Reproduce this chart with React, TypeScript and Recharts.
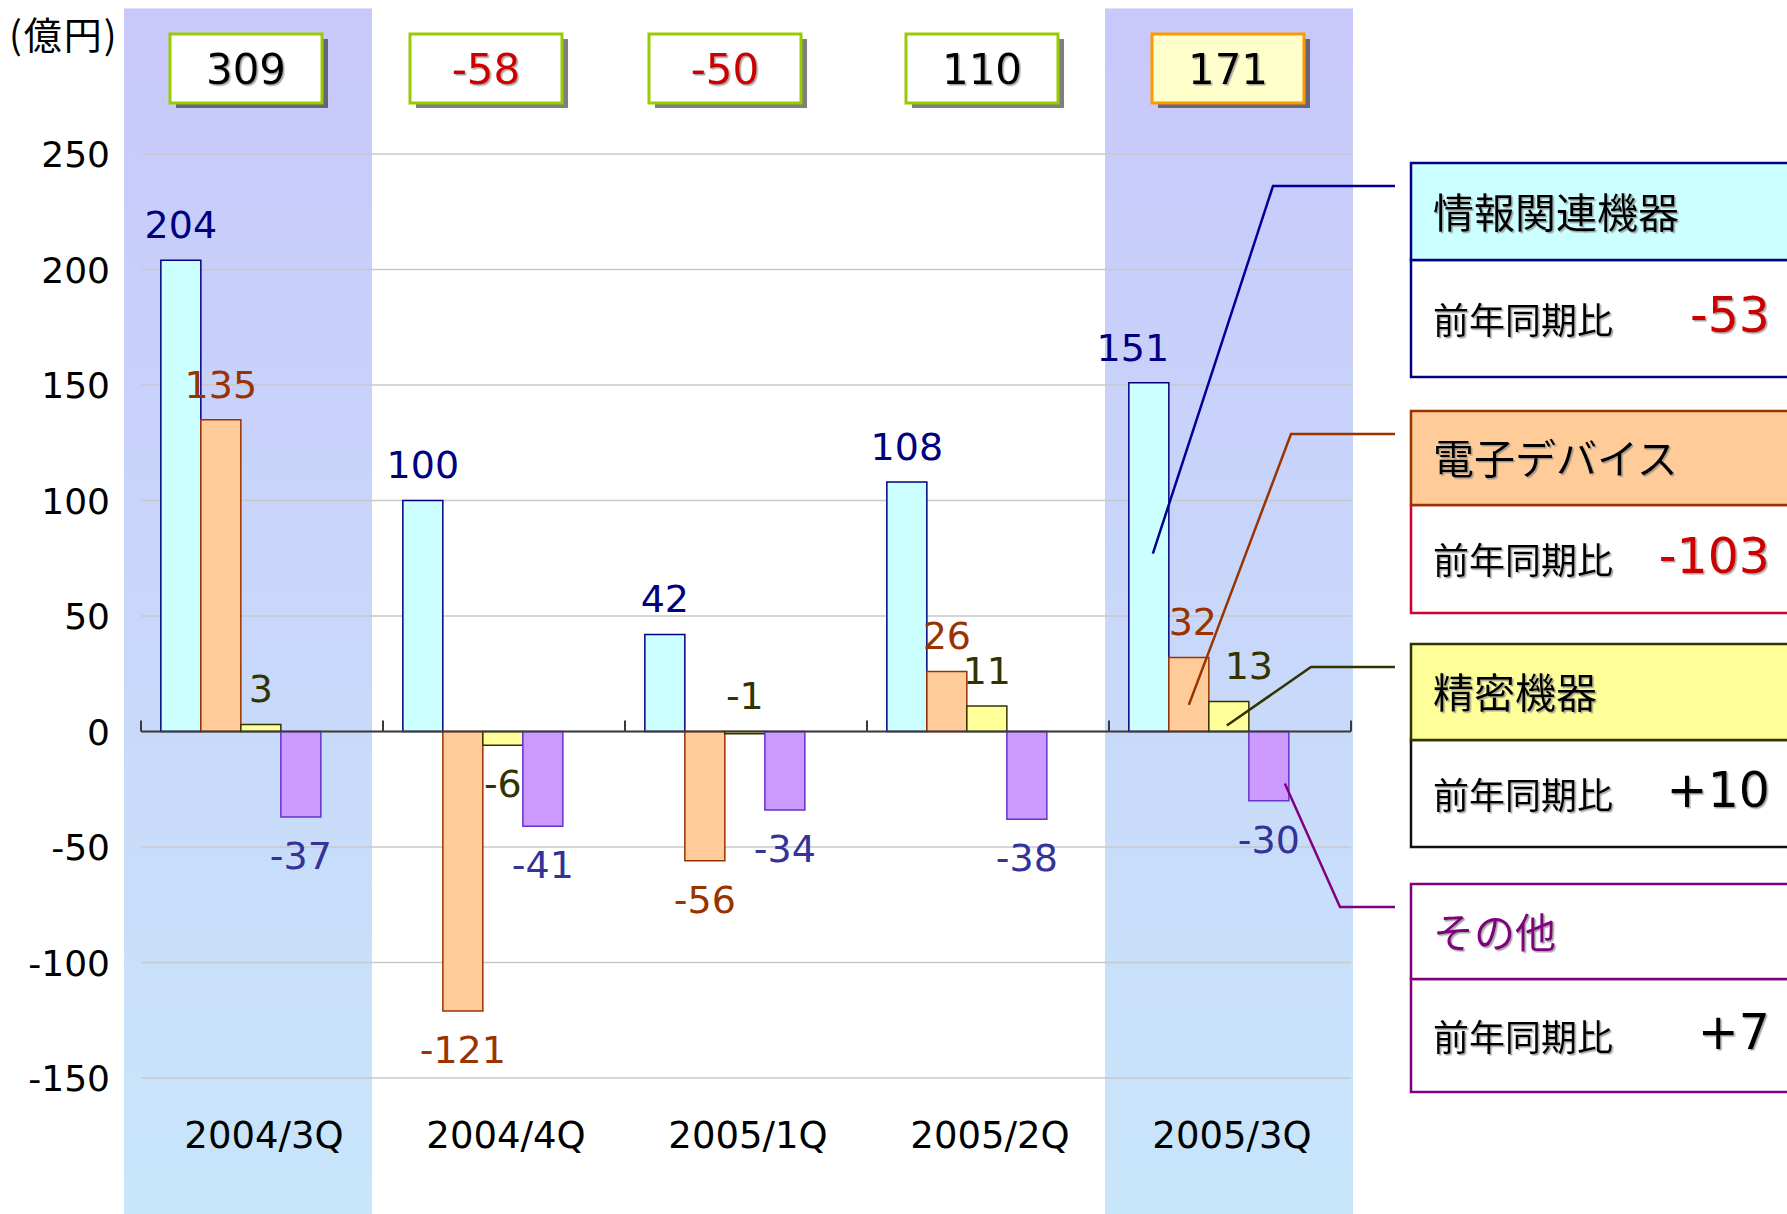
import React from 'react';
import {
  BarChart,
  Bar,
  XAxis,
  YAxis,
  CartesianGrid,
  ReferenceArea,
  ReferenceLine,
  LabelList,
} from 'recharts';

// ---------------- data ----------------
const categories = ['2004/3Q', '2004/4Q', '2005/1Q', '2005/2Q', '2005/3Q'];
const infoValues = [204, 100, 42, 108, 151];
const deviceValues = [135, -121, -56, 26, 32];
const precisionValues = [3, -6, -1, 11, 13];
const otherValues = [-37, -41, -34, -38, -30];
const totalValues = [309, -58, -50, 110, 171];
const yTicks = [-150, -100, -50, 0, 50, 100, 150, 200, 250];
const seriesNames = ['情報関連機器', '電子デバイス', '精密機器', 'その他'];
const yoyValues = ['-53', '-103', '+10', '+7'];
const highlightedCategories = ['2004/3Q', '2005/3Q'];
const unitLabel = '(億円)';
const yoyCaption = '前年同期比';

const data = categories.map((cat, i) => ({
  cat,
  info: infoValues[i],
  device: deviceValues[i],
  precision: precisionValues[i],
  other: otherValues[i],
}));

// ---------------- styles ----------------
const W = 1787;
const H = 1214;
const NUM_FONT = "'DejaVu Sans', Verdana, sans-serif";
const JP_FONT = "'Noto Sans CJK JP', 'Noto Sans', sans-serif";

const seriesStyles = [
  { key: 'info', fill: '#CCFFFF', stroke: '#000080', label: '#000080' },
  { key: 'device', fill: '#FFCC99', stroke: '#993300', label: '#993300' },
  { key: 'precision', fill: '#FFFF99', stroke: '#333300', label: '#333300' },
  { key: 'other', fill: '#CC99FF', stroke: '#6633CC', label: '#333399' },
];

// label nudges (series index - category index)
const labelNudges: Record<string, { dx?: number; above?: boolean }> = {
  '0-4': { dx: -16 },
  '1-4': { dx: 4 },
  '2-4': { dx: 20 },
  '2-2': { above: true },
};

// legend boxes (right side)
const LEGEND_X = 1411;
const LEADER_END_X = 1395;
const legendBoxes = [
  { top: 163, split: 260, bottom: 377, headFill: '#CCFFFF', headStroke: '#000080', bodyStroke: '#000080', titleColor: '#000000', valueColor: '#CC0000', leader: '#000099', elbowX: 1273, fx: 0.6, fy: 0.49 },
  { top: 411, split: 505, bottom: 613, headFill: '#FFCC99', headStroke: '#993300', bodyStroke: '#CC0033', titleColor: '#000000', valueColor: '#CC0000', leader: '#993300', elbowX: 1291, fx: 0.5, fy: 0.64 },
  { top: 644, split: 740, bottom: 847, headFill: '#FFFF99', headStroke: '#333300', bodyStroke: '#111111', titleColor: '#000000', valueColor: '#000000', leader: '#333300', elbowX: 1311, fx: 0.45, fy: 0.8 },
  { top: 884, split: 979, bottom: 1092, headFill: '#FFFFFF', headStroke: '#800080', bodyStroke: '#800080', titleColor: '#800080', valueColor: '#000000', leader: '#800080', elbowX: 1340, fx: 0.9, fy: 0.75 },
];

// total boxes at the top
const totalBoxNudges = [-16, -18, -21, -6, -2];
const bandNudges = [
  { l: -17, r: -11 },
  { l: -4, r: 2 },
];

const makeLabel = (si: number) => (props: any) => {
  const vb = props.viewBox || {};
  const x = props.x ?? vb.x;
  const y = props.y ?? vb.y;
  const width = props.width ?? vb.width;
  const height = props.height ?? vb.height;
  const value = props.value;
  const index = props.index;
  if (x == null || y == null || value == null) return null;
  const top = Math.min(y, y + height);
  const bottom = Math.max(y, y + height);
  const nudge = labelNudges[`${si}-${index}`] || {};
  const above = value >= 0 || nudge.above;
  const cx = x + width / 2 + (nudge.dx || 0);
  const cy = above ? top - 36 : bottom + 38;
  const fs = 38;
  const st = seriesStyles[si];
  const lb = legendBoxes[si];
  let leader = null;
  if (index === categories.length - 1) {
    const sx = x + width * lb.fx;
    const sy = top + (bottom - top) * lb.fy;
    const ey = lb.top + 23;
    leader = (
      <polyline
        points={`${sx},${sy} ${lb.elbowX},${ey} ${LEADER_END_X},${ey}`}
        fill="none"
        stroke={lb.leader}
        strokeWidth={2.5}
      />
    );
  }
  return (
    <g>
      <text
        x={cx}
        y={cy + fs * 0.365}
        textAnchor="middle"
        fill={st.label}
        fontSize={fs}
        fontFamily={NUM_FONT}
      >
        {value}
      </text>
      {leader}
    </g>
  );
};

const BandShape = (bi: number) => (p: any) => {
  const nudge = bandNudges[bi];
  const x = p.x + nudge.l;
  const w = p.width - nudge.l + nudge.r;
  const y = Math.min(p.y, p.y + p.height);
  const h = Math.abs(p.height);
  const id = `bandGrad${bi}`;
  return (
    <g>
      <defs>
        <linearGradient id={id} gradientUnits="userSpaceOnUse" x1={0} y1={y} x2={0} y2={y + h}>
          <stop offset="0%" stopColor="#C8C8FA" />
          <stop offset="100%" stopColor="#C8E6FA" />
        </linearGradient>
      </defs>
      <rect x={x} y={y} width={w} height={h} fill={`url(#${id})`} />
    </g>
  );
};

const AxisShape = (p: any) => {
  const { x1, y1, x2 } = p;
  if (x1 == null || y1 == null || x2 == null) return null;
  const n = categories.length;
  const ticks = [];
  for (let i = 0; i <= n; i++) {
    const tx = x1 + ((x2 - x1) * i) / n;
    ticks.push(<line key={i} x1={tx} x2={tx} y1={y1} y2={y1 - 11} stroke="#3A3A3A" strokeWidth={2} />);
  }
  return (
    <g>
      <line x1={x1} x2={x2} y1={y1} y2={y1} stroke="#3A3A3A" strokeWidth={2} />
      {ticks}
    </g>
  );
};

const YTick = (p: any) => {
  const { x, y, payload } = p;
  const fs = 36;
  return (
    <text x={x} y={y + fs * 0.365} textAnchor="end" fill="#000" fontSize={fs} fontFamily={NUM_FONT}>
      {payload.value}
    </text>
  );
};

const XTick = (p: any) => {
  const { x, payload } = p;
  const i = payload.index ?? categories.indexOf(payload.value);
  const fs = 37;
  const total = totalValues[i];
  const last = i === categories.length - 1;
  const bx = x + totalBoxNudges[i] - 76;
  const by = 34;
  const bw = 152;
  const bh = 69;
  return (
    <g>
      <text x={x + 2} y={1134 + fs * 0.365} textAnchor="middle" fill="#000" fontSize={fs} fontFamily={NUM_FONT}>
        {payload.value}
      </text>
      <rect x={bx + 6} y={by + 5} width={bw} height={bh} fill="#000" fillOpacity={0.5} />
      <rect
        x={bx}
        y={by}
        width={bw}
        height={bh}
        fill={last ? '#FFFFCC' : '#FFFFFF'}
        stroke={last ? '#FF9900' : '#99CC00'}
        strokeWidth={3}
      />
      <text
        x={bx + bw / 2}
        y={by + bh / 2 + 42 * 0.365}
        textAnchor="middle"
        fill={total < 0 ? '#CC0000' : '#000000'}
        fontSize={42}
        fontFamily={NUM_FONT}
        filter="url(#txtShadow)"
      >
        {total}
      </text>
    </g>
  );
};

const Overlay = () => (
  <svg width={W} height={H} style={{ position: 'absolute', left: 0, top: 0, pointerEvents: 'none' }}>
    <defs>
      <filter id="txtShadow" x="-10%" y="-10%" width="130%" height="130%">
        <feDropShadow dx="1.5" dy="1.5" stdDeviation="0.6" floodColor="#808080" floodOpacity="0.7" />
      </filter>
    </defs>
    <text x={9} y={32} dominantBaseline="central" fontSize={38} letterSpacing={2} fontFamily={JP_FONT} fill="#000">
      {unitLabel}
    </text>
    {legendBoxes.map((b, i) => (
      <g key={i}>
        <rect x={LEGEND_X} y={b.split} width={420} height={b.bottom - b.split} fill="#FFFFFF" stroke={b.bodyStroke} strokeWidth={2.5} />
        <rect x={LEGEND_X} y={b.top} width={420} height={b.split - b.top} fill={b.headFill} stroke={b.headStroke} strokeWidth={2.5} />
        <text
          x={1433}
          y={(b.top + b.split) / 2 - 2}
          dominantBaseline="central"
          fontSize={41}
          fontFamily={JP_FONT}
          fill={b.titleColor}
          filter="url(#txtShadow)"
        >
          {seriesNames[i]}
        </text>
        <text
          x={1433}
          y={(b.split + b.bottom) / 2 - 1}
          dominantBaseline="central"
          fontSize={36}
          fontFamily={JP_FONT}
          fill="#000"
          filter="url(#txtShadow)"
        >
          {yoyCaption}
        </text>
        <text
          x={1770}
          y={(b.split + b.bottom) / 2 - 4 + 49 * 0.365}
          textAnchor="end"
          fontSize={49}
          fontFamily={NUM_FONT}
          fill={b.valueColor}
          filter="url(#txtShadow)"
        >
          {yoyValues[i]}
        </text>
      </g>
    ))}
  </svg>
);

export default function App() {
  return (
    <div style={{ position: 'absolute', left: 0, top: 0, width: W, height: H, background: '#FFFFFF', overflow: 'hidden' }}>
      <BarChart
        width={W}
        height={H}
        data={data}
        margin={{ top: 154, right: 436, bottom: 36, left: 21 }}
        barCategoryGap="8.2%"
        barGap={0}
      >
        {highlightedCategories.map((c, i) => (
          <ReferenceArea
            key={c}
            x1={c}
            x2={c}
            y1={313}
            y2={-210}
            ifOverflow="visible"
            shape={BandShape(i)}
            zIndex={-200}
          />
        ))}
        <CartesianGrid vertical={false} stroke="#C8C8C8" strokeWidth={1.5} />
        <XAxis
          dataKey="cat"
          axisLine={false}
          tickLine={false}
          height={100}
          interval={0}
          tick={<XTick />}
        />
        <YAxis
          type="number"
          domain={[-150, 250]}
          ticks={yTicks}
          interval={0}
          axisLine={false}
          tickLine={false}
          width={120}
          tickSize={6}
          tickMargin={25}
          tick={<YTick />}
        />
        {seriesStyles.map((s, si) => (
          <Bar
            key={s.key}
            dataKey={s.key}
            fill={s.fill}
            stroke={s.stroke}
            strokeWidth={1.5}
            isAnimationActive={false}
          >
            <LabelList dataKey={s.key} content={makeLabel(si)} />
          </Bar>
        ))}
        <Bar dataKey="blank" isAnimationActive={false} />
        <ReferenceLine y={0} ifOverflow="visible" shape={AxisShape} />
      </BarChart>
      <Overlay />
    </div>
  );
}
